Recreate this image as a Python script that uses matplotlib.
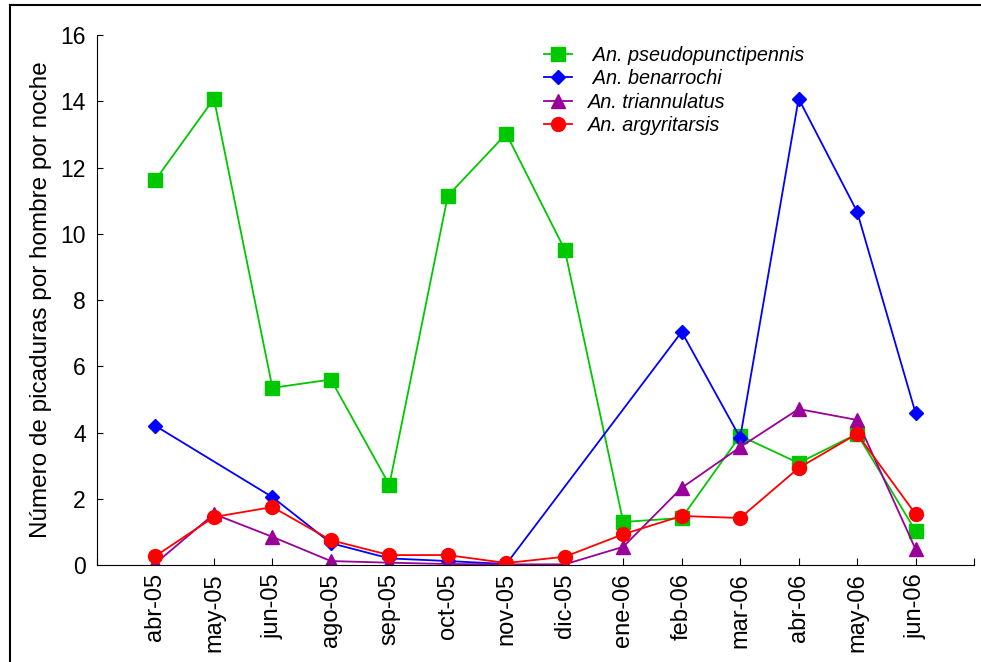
import matplotlib.pyplot as plt
import numpy as np
from matplotlib.lines import Line2D

plt.rcParams['font.family'] = ['Liberation Sans', 'DejaVu Sans']

meses = ['abr-05', 'may-05', 'jun-05', 'ago-05', 'sep-05', 'oct-05', 'nov-05',
         'dic-05', 'ene-06', 'feb-06', 'mar-06', 'abr-06', 'may-06', 'jun-06']

pseudopunctipennis = [11.63, 14.08, 5.35, 5.6, 2.42, 11.15, 13.02,
                      9.52, 1.3, 1.42, 3.9, 3.08, 3.96, 1.03]
# sin datos de benarrochi en may-05, dic-05 y ene-06
benarrochi = [4.2, np.nan, 2.05, 0.66, 0.2, 0.12, 0.03,
              np.nan, np.nan, 7.04, 3.84, 14.08, 10.67, 4.59]
triannulatus = [0.05, 1.54, 0.85, 0.12, 0.07, 0.03, 0.02,
                0.02, 0.55, 2.33, 3.56, 4.71, 4.38, 0.48]
argyritarsis = [0.27, 1.45, 1.75, 0.75, 0.3, 0.3, 0.06,
                0.25, 0.93, 1.48, 1.42, 2.93, 3.96, 1.54]

fig = plt.figure(figsize=(9.81, 6.62), dpi=100)
ax = fig.add_axes([0.0989, 0.1465, 0.894, 0.8005])

x = np.arange(len(meses))


def serie(valores, **kw):
    v = np.array(valores, dtype=float)
    ok = ~np.isnan(v)
    return ax.plot(x[ok], v[ok], lw=1.3, **kw)


serie(pseudopunctipennis, color='#00c800', marker='s', ms=10,
      label=' An. pseudopunctipennis')
serie(benarrochi, color='#0000ff', marker='D', ms=7,
      label=' An. benarrochi')
serie(triannulatus, color='#990099', marker='^', ms=9.5,
      label='An. triannulatus')
serie(argyritarsis, color='#ff0000', marker='o', ms=10,
      label='An. argyritarsis')

ax.set_xlim(-1, len(meses))
ax.set_ylim(0, 16)
ax.set_xticks(np.arange(-1, len(meses) + 1))
ax.set_xticklabels([''] + meses + [''], rotation=90, fontsize=17)
ax.set_yticks(np.arange(0, 17, 2))
ax.tick_params(axis='y', labelsize=16.5, direction='in', length=4, pad=8)
ax.tick_params(axis='x', direction='in', length=5, pad=6)
ax.set_ylabel('Número de picaduras por hombre por noche', fontsize=17.5, labelpad=6)

for s in ['top', 'right']:
    ax.spines[s].set_visible(False)

leg = ax.legend(loc='upper left', bbox_to_anchor=(544 / 981, 1 - 46 / 662),
                bbox_transform=fig.transFigure, frameon=False,
                prop={'style': 'italic', 'size': 14.3}, handlelength=1.4,
                handletextpad=0.8, labelspacing=0.22, borderpad=0, borderaxespad=0)

# marco exterior
fig.add_artist(Line2D([9.5 / 981, 9.5 / 981], [0, 1 - 5 / 662],
                      transform=fig.transFigure, color='black', lw=1.5))
fig.add_artist(Line2D([9.5 / 981, 1], [1 - 5 / 662, 1 - 5 / 662],
                      transform=fig.transFigure, color='black', lw=1.5))

fig.savefig('out.png', dpi=100)
